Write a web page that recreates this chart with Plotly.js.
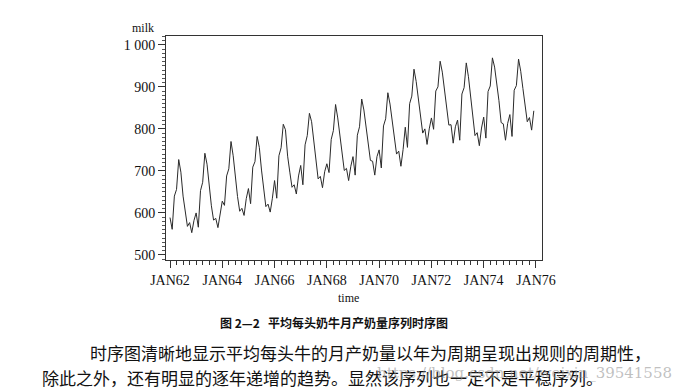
<!DOCTYPE html>
<html>
<head>
<meta charset="utf-8">
<script src="https://cdn.plot.ly/plotly-3.0.1.min.js"></script>
<style>
  html, body { margin: 0; padding: 0; background: #fff; }
  #chart { width: 682px; height: 391px; }
</style>
</head>
<body>
<div id="chart"></div>
<script>
// Monthly milk production per cow, Jan 1962 - Dec 1975
const years = [1962,1963,1964,1965,1966,1967,1968,1969,1970,1971,1972,1973,1974,1975];
const milk1962 = [589,561,640,656,727,697,640,599,568,577,553,582];
const milk1963 = [600,566,653,673,742,716,660,617,583,587,565,598];
const milk1964 = [628,618,688,705,770,736,678,639,604,611,594,634];
const milk1965 = [658,622,709,722,782,756,702,653,615,621,602,635];
const milk1966 = [677,635,736,755,811,798,735,697,661,667,645,688];
const milk1967 = [713,667,762,784,837,817,767,722,681,687,660,698];
const milk1968 = [717,696,775,796,858,826,783,740,701,706,677,711];
const milk1969 = [734,690,785,805,871,845,801,764,725,723,690,734];
const milk1970 = [750,707,807,824,886,859,819,783,740,747,711,751];
const milk1971 = [804,756,860,878,942,913,869,834,790,800,763,800];
const milk1972 = [826,799,890,900,961,935,894,855,809,810,766,805];
const milk1973 = [821,773,883,898,957,924,881,837,784,791,760,802];
const milk1974 = [828,778,889,902,969,947,908,867,815,812,773,813];
const milk1975 = [834,782,892,903,966,937,896,858,817,827,797,843];

const tickVals = [1962,1964,1966,1968,1970,1972,1974,1976];
const tickText = ["JAN62","JAN64","JAN66","JAN68","JAN70","JAN72","JAN74","JAN76"];
const yTickVals = [500,600,700,800,900,1000];
const yTickText = ["500","600","700","800","900","1 000"];

const allMilk = [milk1962,milk1963,milk1964,milk1965,milk1966,milk1967,milk1968,
                 milk1969,milk1970,milk1971,milk1972,milk1973,milk1974,milk1975];
const xs = [], ys = [];
allMilk.forEach((arr, yi) => arr.forEach((v, m) => { xs.push(years[yi] + m/12); ys.push(v); }));

const W = 682, H = 391;
const L = 166, R = 542, T = 36, B = 260;
function px(x) { return (x - L) / (R - L); }
function py(y) { return 1 - (y - T) / (B - T); }

const serif = "Liberation Serif, Times New Roman, serif";
const cjk = "Noto Sans CJK SC, sans-serif";

const data = [{
  type: 'scatter', mode: 'lines', x: xs, y: ys,
  line: { color: '#2a2a2a', width: 1 },
  hoverinfo: 'skip'
}];

const layout = {
  width: W, height: H,
  margin: { l: L, r: W - R, t: T, b: H - B },
  paper_bgcolor: '#fff', plot_bgcolor: '#fff',
  showlegend: false,
  xaxis: {
    range: [1961.847, 1976.23],
    tickmode: 'array', tickvals: tickVals, ticktext: tickText,
    ticks: 'outside', ticklen: 7, tickcolor: '#333', tickwidth: 1,
    showgrid: false, zeroline: false,
    showline: true, linecolor: '#333', linewidth: 1, mirror: true,
    tickfont: { family: serif, size: 14, color: '#111' },
    minor: { tickmode: 'linear', tick0: 1962, dtick: 0.25, ticks: 'outside', ticklen: 4, tickcolor: '#333', showgrid: false }
  },
  yaxis: {
    range: [488, 1021],
    tickmode: 'array', tickvals: yTickVals, ticktext: yTickText,
    ticks: 'outside', ticklen: 7, tickcolor: '#333', tickwidth: 1,
    showgrid: false, zeroline: false,
    showline: true, linecolor: '#333', linewidth: 1, mirror: true,
    tickfont: { family: serif, size: 14, color: '#111' },
    minor: { tickmode: 'linear', tick0: 500, dtick: 10, ticks: 'outside', ticklen: 3, tickcolor: '#555', showgrid: false }
  },
  annotations: [
    { xref: 'paper', yref: 'paper', x: px(143), y: py(28), text: 'milk', showarrow: false,
      font: { family: serif, size: 12, color: '#111' }, xanchor: 'center', yanchor: 'middle' },
    { xref: 'paper', yref: 'paper', x: px(348), y: py(298), text: 'time', showarrow: false,
      font: { family: serif, size: 12, color: '#111' }, xanchor: 'center', yanchor: 'middle' },
    { xref: 'paper', yref: 'paper', x: px(218), y: py(322), text: '<b>图 2—2   平均每头奶牛月产奶量序列时序图</b>', showarrow: false,
      font: { family: cjk, size: 12, color: '#111' }, xanchor: 'left', yanchor: 'middle' },
    { xref: 'paper', yref: 'paper', x: px(88), y: py(352), text: '时序图清晰地显示平均每头牛的月产奶量以年为周期呈现出规则的周期性，', showarrow: false,
      font: { family: cjk, size: 17, color: '#111' }, xanchor: 'left', yanchor: 'middle' },
    { xref: 'paper', yref: 'paper', x: px(40), y: py(377), text: '除此之外，还有明显的逐年递增的趋势。显然该序列也一定不是平稳序列。', showarrow: false,
      font: { family: cjk, size: 17, color: '#111' }, xanchor: 'left', yanchor: 'middle' },
    { xref: 'paper', yref: 'paper', x: px(674), y: py(373), text: 'https://blog.csdn.net/weixin_39541558', showarrow: false,
      font: { family: 'DejaVu Serif, serif', size: 15, color: 'rgba(150,150,150,0.6)' }, xanchor: 'right', yanchor: 'middle' }
  ]
};

Plotly.newPlot('chart', data, layout, { displayModeBar: false, staticPlot: true });
</script>
</body>
</html>
